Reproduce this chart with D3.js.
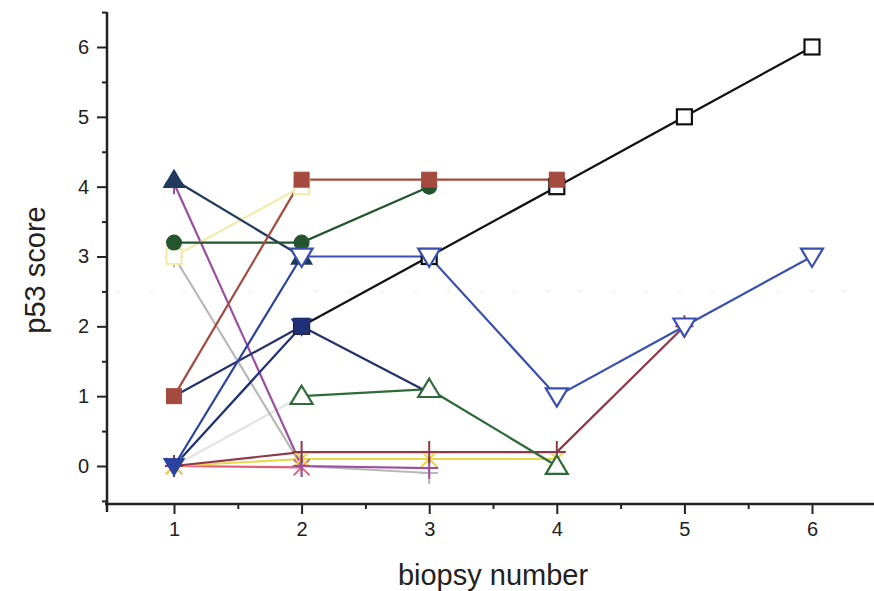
<!DOCTYPE html>
<html><head><meta charset="utf-8">
<script src="https://cdn.jsdelivr.net/npm/d3@7"></script>
<style>body{margin:0;background:#fff}svg{display:block}text{font-family:"Liberation Sans",Arial,sans-serif;fill:#222}</style>
</head><body>
<svg id="c" width="874" height="591"></svg>
<script>
const biopsies = [1, 2, 3, 4, 5, 6];
const yTicks = [0, 1, 2, 3, 4, 5, 6];
// one array per patient (null = no biopsy)
const pLightLine   = [0, 1, null, null, null, null];
const pPink        = [0, -0.02, null, null, null, null];
const pYellowX     = [0, 0.1, 0.1, 0.1, null, null];
const pMaroonPlus  = [0, 0.2, 0.2, 0.2, 2, null];
const pGrayPlus    = [3, 0, -0.1, null, null, null];
const pPurplePlus  = [4.05, 0, -0.03, null, null, null];
const pYellowSq    = [3, 4, null, null, null, null];
const pBlackSq     = [null, 2, 3, 4, 5, 6];
const pGreenTri    = [null, 1, 1.1, 0, null, null];
const pNavySq      = [1, 2, 1.05, null, null, null];
const pNavyDownA   = [0, 2, null, null, null, null];
const pNavyDownB   = [0, 3, null, null, null, null];
const pSlateUp     = [4.1, 3, null, null, null, null];
const pGreenCirc   = [3.2, 3.2, 4, null, null, null];
const pBrownSq     = [1, 4.1, 4.1, 4.1, null, null];
const pBlueDown    = [null, 3, 3, 1, 2, 3];

const series = [
  {v: pLightLine,  color: "#e4e4e4", m: null},
  {v: pGrayPlus,   color: "#b8b8b8", m: "plus"},
  {v: pPink,       color: "#e0607a", m: "x"},
  {v: pYellowX,    color: "#e8d84a", m: "x"},
  {v: pPurplePlus, color: "#9b4fa0", m: "plus"},
  {v: pMaroonPlus, color: "#8e3848", m: "plus"},
  {v: pYellowSq,   color: "#f1ecae", m: "sqOpen"},
  {v: pBlackSq,    color: "#111111", m: "sqOpen"},
  {v: pGreenTri,   color: "#2f6b3a", m: "triUpOpen"},
  {v: pNavySq,     color: "#24306a", m: "sqFill", only: [1]},
  {v: pNavyDownA,  color: "#1f2f78", m: "triDownFill"},
  {v: pNavyDownB,  color: "#2b43a0", m: "triDownFill"},
  {v: pSlateUp,    color: "#1f3a5c", m: "triUpFill"},
  {v: pGreenCirc,  color: "#24552e", m: "circFill"},
  {v: pBrownSq,    color: "#a44a3e", m: "sqFill"},
  {v: pBlueDown,   color: "#3a4fb0", m: "triDownOpen"}
];

const svg = d3.select("#c");
const x = d3.scaleLinear().domain([1, 6]).range([174, 812]);
const y = d3.scaleLinear().domain([0, 6]).range([466, 47]);
const axX = 107, axY = 504;

// faint dotted line at 2.5
svg.append("line").attr("x1", axX + 10).attr("x2", 874).attr("y1", y(2.5)).attr("y2", y(2.5))
  .attr("stroke", "#eeeeee").attr("stroke-width", 1.5).attr("stroke-dasharray", "3,30");

// axes
const yAxis = d3.axisLeft(y).tickValues(yTicks).tickSize(10).tickPadding(8).tickFormat(d3.format("d"));
const gy = svg.append("g").attr("transform", `translate(${axX},0)`).call(yAxis);
gy.select(".domain").remove();
gy.selectAll(".tick line").attr("stroke", "#222").attr("stroke-width", 2);
gy.selectAll(".tick text").style("font-size", "20px").attr("fill", "#222");
const gyMinor = d3.axisLeft(y).tickValues([-0.5, 0.5, 1.5, 2.5, 3.5, 4.5, 5.5, 6.5]).tickSize(5).tickFormat("");
const gym = svg.append("g").attr("transform", `translate(${axX},0)`).call(gyMinor);
gym.select(".domain").remove();
gym.selectAll(".tick line").attr("stroke", "#222").attr("stroke-width", 2);

const xAxis = d3.axisBottom(x).tickValues(biopsies).tickSize(10).tickPadding(8).tickFormat(d3.format("d"));
const gx = svg.append("g").attr("transform", `translate(0,${axY})`).call(xAxis);
gx.select(".domain").remove();
gx.selectAll(".tick line").attr("stroke", "#222").attr("stroke-width", 2);
gx.selectAll(".tick text").style("font-size", "20px").attr("fill", "#222");
const gxMinor = d3.axisBottom(x).tickValues([1.5, 2.5, 3.5, 4.5, 5.5, 6.5]).tickSize(5).tickFormat("");
const gxm = svg.append("g").attr("transform", `translate(0,${axY})`).call(gxMinor);
gxm.select(".domain").remove();
gxm.selectAll(".tick line").attr("stroke", "#222").attr("stroke-width", 2);

svg.append("line").attr("x1", axX).attr("x2", axX).attr("y1", 12).attr("y2", axY + 8)
  .attr("stroke", "#222").attr("stroke-width", 2.5);
svg.append("line").attr("x1", axX - 2).attr("x2", 874).attr("y1", axY).attr("y2", axY)
  .attr("stroke", "#222").attr("stroke-width", 2.5);

// titles
svg.append("text").attr("transform", `translate(45,270) rotate(-90)`).attr("text-anchor", "middle")
  .style("font-size", "29px").text("p53 score");
svg.append("text").attr("x", 493).attr("y", 585).attr("text-anchor", "middle")
  .style("font-size", "29px").text("biopsy number");

// lines
const line = d3.line().defined(d => d[1] !== null).x(d => x(d[0])).y(d => y(d[1]));
const gl = svg.append("g");
series.forEach(s => {
  const pts = biopsies.map((b, i) => [b, s.v[i]]);
  gl.append("path").datum(pts).attr("d", line).attr("fill", "none")
    .attr("stroke", s.color).attr("stroke-width", 2.2);
});

// markers
const gm = svg.append("g");
function tri(up, r) {
  const h = r * 0.95;
  return up ? `M0,${-h}L${r},${h * 0.75}L${-r},${h * 0.75}Z` : `M0,${h}L${r},${-h * 0.75}L${-r},${-h * 0.75}Z`;
}
series.forEach(s => {
  if (!s.m) return;
  biopsies.forEach((b, i) => {
    const v = s.v[i];
    if (v === null) return;
    if (s.only && !s.only.includes(i)) return;
    const g = gm.append("g").attr("transform", `translate(${x(b)},${y(v)})`);
    const c = s.color;
    switch (s.m) {
      case "sqOpen": g.append("rect").attr("x", -7.5).attr("y", -7.5).attr("width", 15).attr("height", 15)
        .attr("fill", "#fff").attr("stroke", c).attr("stroke-width", 2.2); break;
      case "sqFill": g.append("rect").attr("x", -7.5).attr("y", -7.5).attr("width", 15).attr("height", 15)
        .attr("fill", c).attr("stroke", c).attr("stroke-width", 1); break;
      case "circFill": g.append("circle").attr("r", 8).attr("fill", c); break;
      case "triUpOpen": g.append("path").attr("d", tri(true, 11)).attr("fill", "#fff").attr("stroke", c).attr("stroke-width", 2.2); break;
      case "triUpFill": g.append("path").attr("d", tri(true, 11.5)).attr("fill", c); break;
      case "triDownOpen": g.append("path").attr("d", tri(false, 11)).attr("fill", "#fff").attr("stroke", c).attr("stroke-width", 2.2); break;
      case "triDownFill": g.append("path").attr("d", tri(false, 11)).attr("fill", c); break;
      case "plus": g.append("path").attr("d", "M-9,0H9M0,-11V11").attr("stroke", c).attr("stroke-width", 2); break;
      case "x": g.append("path").attr("d", "M-8,-8L8,8M-8,8L8,-8").attr("stroke", c).attr("stroke-width", 2); break;
    }
  });
});
</script>
</body></html>
